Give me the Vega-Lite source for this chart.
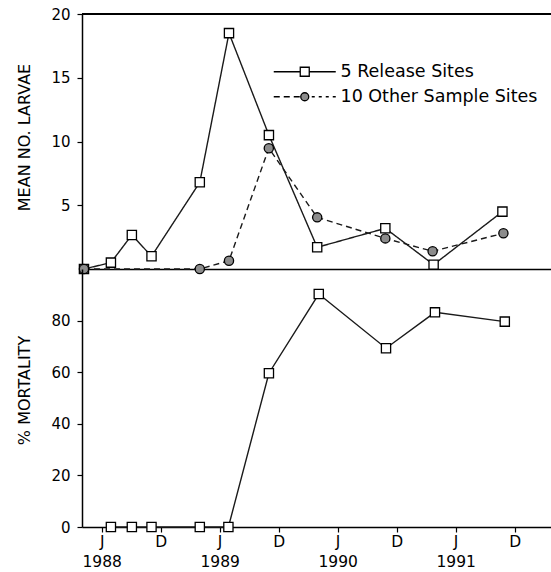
{
  "$schema": "https://vega.github.io/schema/vega-lite/v6.json",
  "padding": {"left": 16, "top": 7, "right": 0, "bottom": 0},
  "background": "white",
  "spacing": 0,
  "bounds": "flush",
  "resolve": {"legend": {"fill": "independent"}, "scale": {"fill": "independent"}},
  "config": {
    "view": {"stroke": null},
    "font": "DejaVu Sans",
    "axis": {
      "domainColor": "black", "domainWidth": 1.5, "tickColor": "black", "tickWidth": 1.2,
      "labelColor": "black", "titleColor": "black", "grid": false,
      "labelFont": "DejaVu Sans", "titleFont": "DejaVu Sans", "titleFontWeight": "normal"
    },
    "legend": {"labelFont": "DejaVu Sans", "labelColor": "black"}
  },
  "datasets": {
    "larvae": [
      {"month": 3.2, "mean": 0.0, "series": "5 Release Sites"},
      {"month": 5.94, "mean": 0.5, "series": "5 Release Sites"},
      {"month": 8.07, "mean": 2.67, "series": "5 Release Sites"},
      {"month": 10.07, "mean": 1.0, "series": "5 Release Sites"},
      {"month": 14.98, "mean": 6.8, "series": "5 Release Sites"},
      {"month": 17.95, "mean": 18.5, "series": "5 Release Sites"},
      {"month": 22.01, "mean": 10.5, "series": "5 Release Sites"},
      {"month": 26.92, "mean": 1.7, "series": "5 Release Sites"},
      {"month": 33.85, "mean": 3.19, "series": "5 Release Sites"},
      {"month": 38.76, "mean": 0.34, "series": "5 Release Sites"},
      {"month": 45.76, "mean": 4.5, "series": "5 Release Sites"},
      {"month": 3.2, "mean": 0.0, "series": "10 Other Sample Sites"},
      {"month": 14.98, "mean": 0.0, "series": "10 Other Sample Sites"},
      {"month": 17.95, "mean": 0.65, "series": "10 Other Sample Sites"},
      {"month": 22.0, "mean": 9.47, "series": "10 Other Sample Sites"},
      {"month": 26.92, "mean": 4.05, "series": "10 Other Sample Sites"},
      {"month": 33.85, "mean": 2.4, "series": "10 Other Sample Sites"},
      {"month": 38.66, "mean": 1.39, "series": "10 Other Sample Sites"},
      {"month": 45.86, "mean": 2.8, "series": "10 Other Sample Sites"}
    ],
    "mortality": [
      {"month": 5.94, "pct": 0},
      {"month": 8.07, "pct": 0},
      {"month": 10.07, "pct": 0},
      {"month": 14.98, "pct": 0},
      {"month": 17.89, "pct": 0},
      {"month": 22.01, "pct": 59.6},
      {"month": 27.08, "pct": 90.3},
      {"month": 33.92, "pct": 69.3},
      {"month": 38.9, "pct": 83.2},
      {"month": 46.0, "pct": 79.6}
    ]
  },
  "vconcat": [
    {
      "width": 469,
      "height": 255,
      "data": {"name": "larvae"},
      "layer": [
        {
          "mark": {"type": "rule", "color": "black", "strokeWidth": 1.5},
          "encoding": {"y": {"datum": 20}}
        },
        {
          "mark": {"type": "line", "color": "#1a1a1a", "strokeWidth": 1.4},
          "encoding": {
            "x": {"field": "month", "type": "quantitative",
                  "scale": {"domain": [3, 50.7], "nice": false, "zero": false},
                  "axis": {"title": null, "labels": false, "ticks": false, "domain": true}},
            "y": {"field": "mean", "type": "quantitative",
                  "scale": {"domain": [0, 20], "nice": false},
                  "axis": {"title": "MEAN NO. LARVAE", "values": [5, 10, 15, 20], "tickSize": 5,
                           "labelFontSize": 15, "labelPadding": 7, "titleFontSize": 16, "titlePadding": 18, "titleY": 123}},
            "detail": {"field": "series", "type": "nominal"},
            "strokeDash": {"condition": {"test": "datum.series == '5 Release Sites'", "value": [1, 0]}, "value": [6, 4]}
          }
        },
        {
          "mark": {"type": "point", "filled": true, "stroke": "black", "strokeWidth": 1.3, "opacity": 1, "size": 85},
          "encoding": {
            "x": {"field": "month", "type": "quantitative"},
            "y": {"field": "mean", "type": "quantitative"},
            "shape": {"condition": {"test": "datum.series == '5 Release Sites'", "value": "square"}, "value": "circle"},
            "fill": {"field": "series", "type": "nominal",
                     "scale": {"domain": ["5 Release Sites", "10 Other Sample Sites"], "range": ["white", "#8c8c8c"]},
                     "legend": {
                       "title": null, "orient": "none", "legendX": 214, "legendY": 49,
                       "padding": 0, "symbolOffset": 0, "symbolSize": 100, "labelOffset": 27, "labelLimit": 400,
                       "labelFontSize": 17.5, "rowPadding": 6, "symbolStrokeColor": "black", "symbolStrokeWidth": 1.3,
                       "encoding": {
                         "symbols": {
                           "shape": {"value": {"expr": "datum.value == '5 Release Sites' ? 'M-6.2,0H-0.9M0.9,0H6.2M-0.9,-0.9H0.9V0.9H-0.9Z' : 'M-6.2,0H-5M-4.2,0H-3M-2.2,0H-1M1.4,0H2M2.8,0H3.4M4.2,0H4.8M5.6,0H6.2M-0.8,0A0.8,0.8,0,1,1,0.8,0A0.8,0.8,0,1,1,-0.8,0Z'"}},
                           "stroke": {"value": "black"},
                           "strokeDash": {"value": []}
                         }
                       }
                     }}
          }
        }
      ]
    },
    {
      "width": 469,
      "height": 258,
      "data": {"name": "mortality"},
      "layer": [
        {
          "mark": {"type": "line", "color": "#1a1a1a", "strokeWidth": 1.4},
          "encoding": {
            "x": {"field": "month", "type": "quantitative",
                  "scale": {"domain": [3, 50.7], "nice": false, "zero": false},
                  "axis": {"title": null, "values": [5, 11, 17, 23, 29, 35, 41, 47], "tickSize": 5,
                           "labelFontSize": 15.5, "labelLineHeight": 20, "labelPadding": 2,
                           "labelExpr": "(datum.value - 5) % 12 == 0 ? ['J', '' + (1988 + (datum.value - 5) / 12)] : 'D'"}},
            "y": {"field": "pct", "type": "quantitative",
                  "scale": {"domain": [0, 100], "nice": false},
                  "axis": {"title": "% MORTALITY", "values": [0, 20, 40, 60, 80], "tickSize": 5,
                           "labelFontSize": 15, "labelPadding": 7, "titleFontSize": 16, "titlePadding": 18, "titleY": 121}}
          }
        },
        {
          "mark": {"type": "point", "shape": "square", "filled": true, "fill": "white", "stroke": "black", "strokeWidth": 1.3, "opacity": 1, "size": 85},
          "encoding": {
            "x": {"field": "month", "type": "quantitative"},
            "y": {"field": "pct", "type": "quantitative"}
          }
        }
      ]
    }
  ]
}
